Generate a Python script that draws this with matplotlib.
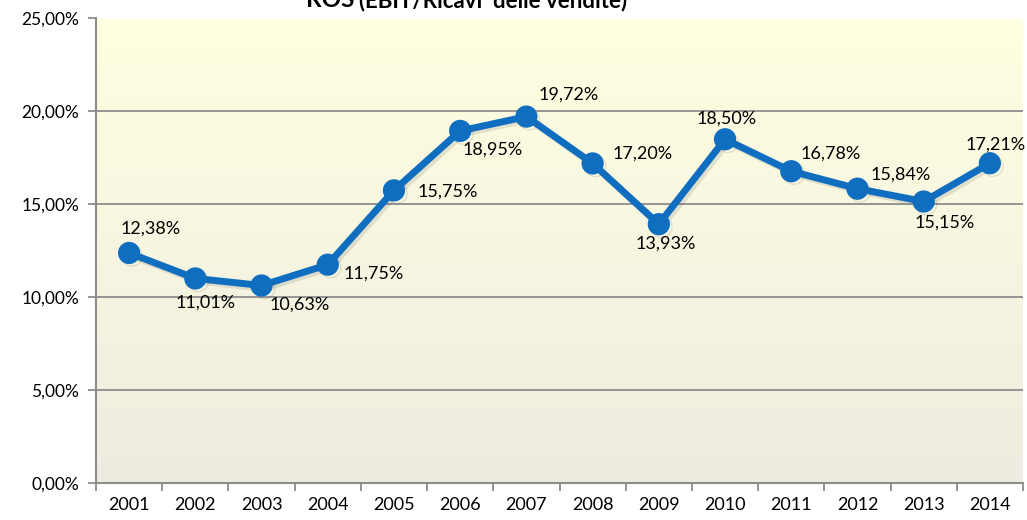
import matplotlib.pyplot as plt
import matplotlib.patheffects as pe
import numpy as np
from matplotlib.colors import LinearSegmentedColormap

# dati
anni = ['2001', '2002', '2003', '2004', '2005', '2006', '2007',
        '2008', '2009', '2010', '2011', '2012', '2013', '2014']
ros = [12.38, 11.01, 10.63, 11.75, 15.75, 18.95, 19.72,
       17.20, 13.93, 18.50, 16.78, 15.84, 15.15, 17.21]

# spostamento etichette (pixel)
off = [(21, 24), (10, -24), (38, -19), (46, -9), (54, -1), (32, -19), (42, 22),
       (50, 10), (7, -19), (2, 21), (39, 18), (43, 14), (21, -21), (6, 19)]

plt.rcParams['font.family'] = ['Lato', 'DejaVu Sans']

fig = plt.figure(figsize=(10.27, 5.20), dpi=100)
ax = fig.add_axes([96 / 1027, 1 - 483 / 520, 927 / 1027, 464.5 / 520])

x = np.arange(len(anni))
ax.set_xlim(-0.5, len(anni) - 0.5)
ax.set_ylim(0, 25)

# sfondo sfumato
cmap = LinearSegmentedColormap.from_list('bg', ['#EEECE1', '#FFFFE0'])
grad = np.linspace(0, 1, 256).reshape(-1, 1)
ax.imshow(grad, cmap=cmap, aspect='auto', origin='lower',
          extent=(-0.5, len(anni) - 0.5, 0, 25), zorder=0)

ax.set_yticks(range(0, 26, 5))
ax.set_yticklabels([f'{v},00%' for v in range(0, 26, 5)])
ax.yaxis.grid(True, color='#8C8C8C', linewidth=1.3, zorder=1)
ax.set_axisbelow(False)

ax.set_xticks(np.arange(-0.5, len(anni), 1), minor=False)
ax.set_xticklabels([])
ax.set_xticks(x, minor=True)
ax.set_xticklabels(anni, minor=True)
ax.tick_params(axis='x', which='minor', length=0, labelsize=13, pad=10)
ax.tick_params(axis='x', which='major', length=6, color='#8C8C8C', width=1.3)
ax.tick_params(axis='y', length=6, color='#8C8C8C', width=1.3, labelsize=12.5, pad=6)

for s in ['top', 'right']:
    ax.spines[s].set_visible(False)
for s in ['left', 'bottom']:
    ax.spines[s].set_color('#8C8C8C')
    ax.spines[s].set_linewidth(1.5)

ax.plot(x, ros, color='#0F6EC0', linewidth=5, marker='o', markersize=15,
        markeredgecolor='#0F6EC0', zorder=3, clip_on=False,
        path_effects=[pe.SimpleLineShadow(offset=(2, -2), alpha=0.15, shadow_color='#555555'),
                      pe.Normal()])

for i, v in enumerate(ros):
    ax.annotate(f'{v:.2f}%'.replace('.', ','), (x[i], v), xytext=off[i],
                textcoords='offset pixels', ha='center', va='center',
                fontsize=13, zorder=4)

# titolo (tagliato in alto come nell'originale)
fig.text(354 / 1027, 1 - 7 / 520, 'ROS', fontsize=17.5, ha='right', va='baseline',
         fontweight='bold')
fig.text(359 / 1027, 1 - 7 / 520, '(EBIT/Ricavi  delle vendite)', fontsize=16,
         ha='left', va='baseline', fontweight='bold')

fig.savefig('out.png', dpi=100)
